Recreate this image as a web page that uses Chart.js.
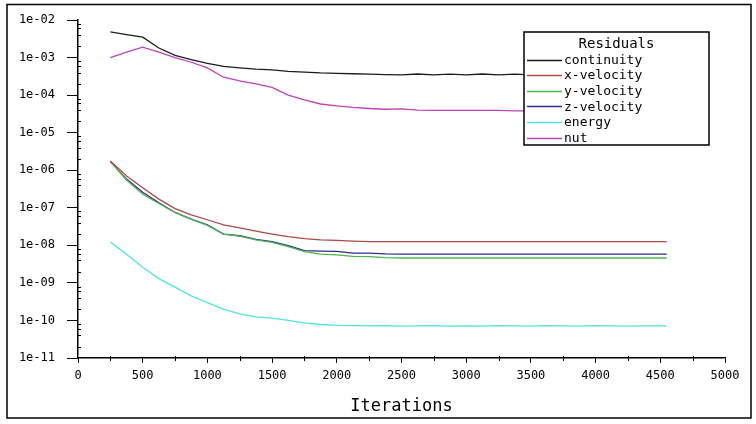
<!DOCTYPE html>
<html>
<head>
<meta charset="utf-8">
<script src="https://cdn.jsdelivr.net/npm/chart.js@4/dist/chart.umd.min.js"></script>
<style>
  html, body { margin: 0; padding: 0; background: #fff; }
  #wrap { width: 756px; height: 424px; }
</style>
</head>
<body>
<div id="wrap"><canvas id="residuals" width="756" height="424"></canvas></div>
<script>
// iteration numbers shared by every residual series
const iterations = [250, 375, 500, 625, 750, 875, 1000, 1125, 1250, 1375, 1500, 1625, 1750, 1875, 2000, 2125, 2250, 2375,
  2500, 2625, 2750, 2875, 3000, 3125, 3250, 3375, 3500, 3625, 3750, 3875, 4000, 4125, 4250, 4375, 4500, 4550]

const continuity = [4.8e-3, 4.1e-3, 3.5e-3, 1.8e-3, 1.15e-3, 8.8e-4, 7.0e-4, 5.8e-4, 5.3e-4, 4.9e-4, 4.7e-4, 4.3e-4, 4.1e-4, 3.9e-4, 3.8e-4, 3.7e-4, 3.6e-4, 3.5e-4,
  3.45e-4, 3.65e-4, 3.45e-4, 3.6e-4, 3.45e-4, 3.65e-4, 3.45e-4, 3.6e-4, 3.45e-4, 3.65e-4, 3.45e-4, 3.6e-4, 3.45e-4, 3.65e-4, 3.45e-4, 3.6e-4, 3.45e-4, 3.6e-4]
const xVelocity = [1.75e-6, 7.0e-7, 3.4e-7, 1.7e-7, 9.5e-8, 6.5e-8, 4.8e-8, 3.5e-8, 2.9e-8, 2.4e-8, 2.0e-8, 1.7e-8, 1.5e-8, 1.4e-8, 1.35e-8, 1.3e-8, 1.25e-8, 1.25e-8,
  1.25e-8, 1.25e-8, 1.25e-8, 1.25e-8, 1.25e-8, 1.25e-8, 1.25e-8, 1.25e-8, 1.25e-8, 1.25e-8, 1.25e-8, 1.25e-8, 1.25e-8, 1.25e-8, 1.25e-8, 1.25e-8, 1.25e-8, 1.25e-8]
const yVelocity = [1.7e-6, 5.5e-7, 2.3e-7, 1.3e-7, 7.5e-8, 5.0e-8, 3.4e-8, 2.0e-8, 1.75e-8, 1.4e-8, 1.2e-8, 9.2e-9, 6.8e-9, 5.8e-9, 5.6e-9, 5.1e-9, 5.0e-9, 4.7e-9,
  4.6e-9, 4.6e-9, 4.6e-9, 4.6e-9, 4.6e-9, 4.6e-9, 4.6e-9, 4.6e-9, 4.6e-9, 4.6e-9, 4.6e-9, 4.6e-9, 4.6e-9, 4.6e-9, 4.6e-9, 4.6e-9, 4.6e-9, 4.6e-9]
const zVelocity = [1.7e-6, 5.8e-7, 2.6e-7, 1.35e-7, 7.5e-8, 5.0e-8, 3.5e-8, 2.0e-8, 1.8e-8, 1.45e-8, 1.25e-8, 9.8e-9, 7.2e-9, 7.0e-9, 6.9e-9, 6.2e-9, 6.2e-9, 5.9e-9,
  5.8e-9, 5.8e-9, 5.8e-9, 5.8e-9, 5.8e-9, 5.8e-9, 5.8e-9, 5.8e-9, 5.8e-9, 5.8e-9, 5.8e-9, 5.8e-9, 5.8e-9, 5.8e-9, 5.8e-9, 5.8e-9, 5.8e-9, 5.8e-9]
const energy = [1.23e-8, 5.8e-9, 2.6e-9, 1.3e-9, 7.7e-10, 4.5e-10, 3.0e-10, 2.0e-10, 1.5e-10, 1.25e-10, 1.15e-10, 1.0e-10, 8.6e-11, 7.8e-11, 7.4e-11, 7.3e-11, 7.2e-11, 7.3e-11,
  7.1e-11, 7.2e-11, 7.3e-11, 7.1e-11, 7.2e-11, 7.1e-11, 7.3e-11, 7.2e-11, 7.1e-11, 7.3e-11, 7.2e-11, 7.1e-11, 7.3e-11, 7.2e-11, 7.1e-11, 7.2e-11, 7.2e-11, 7.2e-11]
const nut = [1.0e-3, 1.4e-3, 1.9e-3, 1.4e-3, 1.0e-3, 7.5e-4, 5.3e-4, 3.0e-4, 2.4e-4, 2.0e-4, 1.6e-4, 1.0e-4, 7.5e-5, 5.8e-5, 5.2e-5, 4.7e-5, 4.4e-5, 4.2e-5,
  4.3e-5, 4.0e-5, 3.9e-5, 3.9e-5, 3.9e-5, 3.9e-5, 3.9e-5, 3.8e-5, 3.8e-5, 3.9e-5, 3.8e-5, 3.8e-5, 3.8e-5, 3.9e-5, 3.8e-5, 3.8e-5, 3.8e-5, 3.8e-5]

const seriesNames = ['continuity', 'x-velocity', 'y-velocity', 'z-velocity', 'energy', 'nut']
const seriesValues = [continuity, xVelocity, yVelocity, zVelocity, energy, nut]
const seriesColors = ['#1c1c1c', '#b04848', '#4cb84c', '#2c2c8c', '#4ce4e4', '#c040b8']

// decade tick positions for the log axis
const decadeTicks = [1e-11, 1e-10, 1e-9, 1e-8, 1e-7, 1e-6, 1e-5, 1e-4, 1e-3, 1e-2]

const FONT = 'DejaVu Sans Mono'

// white page with a thin frame round everything
const frame = {
  id: 'frame',
  beforeDraw (chart) {
    const ctx = chart.ctx
    ctx.save()
    ctx.fillStyle = '#fff'
    ctx.fillRect(0, 0, chart.width, chart.height)
    ctx.strokeStyle = '#000'
    ctx.lineWidth = 1.5
    ctx.strokeRect(7, 4.5, 744, 413.5)
    ctx.restore()
  }
}

// small minor ticks, as in the solver's plot
const minorTicks = {
  id: 'minorTicks',
  afterDraw (chart) {
    const { ctx, scales: { x, y } } = chart
    ctx.save()
    ctx.strokeStyle = '#000'
    ctx.lineWidth = 1
    ctx.beginPath()
    decadeTicks.slice(0, -1).forEach(d => {
      for (let m = 2; m <= 9; m += 2) {
        const py = Math.round(y.getPixelForValue(m * d)) + 0.5
        ctx.moveTo(x.left, py)
        ctx.lineTo(x.left + 3, py)
      }
    })
    for (let v = 250; v < 5000; v += 500) {
      const px = Math.round(x.getPixelForValue(v)) + 0.5
      ctx.moveTo(px, y.bottom - 2)
      ctx.lineTo(px, y.bottom + 3)
    }
    ctx.stroke()
    ctx.restore()
  }
}

// boxed legend with a title, drawn over the lines
const residualLegend = {
  id: 'residualLegend',
  afterDatasetsDraw (chart) {
    const ctx = chart.ctx
    const box = { left: 524, top: 32, right: 709, bottom: 145 }
    ctx.save()
    ctx.fillStyle = '#fff'
    ctx.fillRect(box.left, box.top, box.right - box.left, box.bottom - box.top)
    ctx.strokeStyle = '#000'
    ctx.lineWidth = 1.5
    ctx.strokeRect(box.left, box.top, box.right - box.left, box.bottom - box.top)
    ctx.fillStyle = '#000'
    ctx.font = '14px "' + FONT + '"'
    ctx.textBaseline = 'middle'
    ctx.textAlign = 'center'
    ctx.fillText('Residuals', (box.left + box.right) / 2, 44)
    ctx.font = '13px "' + FONT + '"'
    ctx.textAlign = 'left'
    chart.data.datasets.forEach((ds, i) => {
      const ly = 59.5 + i * 15.6
      ctx.strokeStyle = ds.borderColor
      ctx.lineWidth = 1.5
      ctx.beginPath()
      ctx.moveTo(527, Math.round(ly) + 0.5)
      ctx.lineTo(562, Math.round(ly) + 0.5)
      ctx.stroke()
      ctx.fillStyle = '#000'
      ctx.fillText(ds.label, 564, ly + 1)
    })
    ctx.restore()
  }
}

const ctx = document.getElementById('residuals').getContext('2d')

new Chart(ctx, {
  type: 'line',
  data: {
    datasets: seriesNames.map((name, i) => ({
      label: name,
      data: iterations.map((it, j) => ({ x: it, y: seriesValues[i][j] })),
      borderColor: seriesColors[i],
      backgroundColor: seriesColors[i],
      borderWidth: 1.3,
      pointRadius: 0,
      tension: 0
    }))
  },
  options: {
    responsive: false,
    animation: false,
    layout: {
      padding: { top: 20, right: 31, left: 0, bottom: 0 }
    },
    plugins: {
      legend: { display: false },
      tooltip: { enabled: false }
    },
    scales: {
      x: {
        type: 'linear',
        min: 0,
        max: 5000,
        afterFit (scale) { scale.height = 66 },
        ticks: {
          stepSize: 500,
          color: '#000',
          padding: 6,
          maxRotation: 0,
          font: { family: FONT, size: 12 },
          callback: (v) => String(v)
        },
        grid: {
          drawOnChartArea: false,
          tickLength: 5,
          tickColor: '#000'
        },
        border: { display: true, color: '#000', width: 1.5 },
        title: {
          display: true,
          text: 'Iterations',
          color: '#000',
          padding: { top: 0, bottom: 7 },
          font: { family: FONT, size: 17 }
        }
      },
      y: {
        type: 'logarithmic',
        min: 1e-11,
        max: 1e-2,
        afterFit (scale) { scale.width = 78 },
        afterBuildTicks (scale) {
          scale.ticks = decadeTicks.map(v => ({ value: v }))
        },
        ticks: {
          color: '#000',
          padding: 12,
          autoSkip: false,
          font: { family: FONT, size: 12 },
          callback: (v) => {
            const e = Math.round(Math.log10(v))
            return '1e-' + String(-e).padStart(2, '0')
          }
        },
        grid: {
          drawOnChartArea: false,
          tickLength: 11,
          tickColor: '#000'
        },
        border: { display: true, color: '#000', width: 1.5 }
      }
    }
  },
  plugins: [frame, minorTicks, residualLegend]
})
</script>
</body>
</html>
